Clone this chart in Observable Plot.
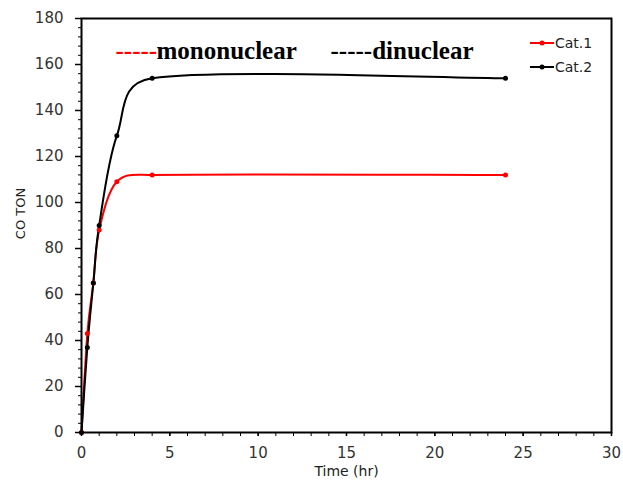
<!DOCTYPE html>
<html>
<head>
<meta charset="utf-8">
<script src="https://cdn.jsdelivr.net/npm/d3@7"></script>
<script src="https://cdn.jsdelivr.net/npm/@observablehq/plot@0.6"></script>
<style>
  html, body { margin: 0; padding: 0; background: #fff; }
  #wrap { position: relative; width: 623px; height: 481px; }
  #legend { position: absolute; left: 530px; top: 31px; font-family: "DejaVu Sans", sans-serif; font-size: 14px; color: #222; }
  #legend .row { display: flex; align-items: center; height: 24px; }
  #legend svg { margin-right: 1px; }
</style>
</head>
<body>
<div id="wrap"><div id="chart"></div><div id="legend"></div></div>
<script>
const times = [0, 0.33, 0.67, 1, 2, 4, 24];
const cat1 = [0, 43, 65, 88, 109, 112, 112];
const cat2 = [0, 37, 65, 90, 129, 154, 154];
const seriesNames = ["Cat.1", "Cat.2"];
const seriesColors = ["#ff0000", "#000000"];
const yTicks = [0, 20, 40, 60, 80, 100, 120, 140, 160, 180];
const xTicks = [0, 5, 10, 15, 20, 25, 30];

const data = [];
[cat1, cat2].forEach((vals, s) => vals.forEach((v, i) => data.push({series: seriesNames[s], t: times[i], v})));

const yMinor = d3.range(0, 181, 4);
const xMinor = d3.range(0, 31, 1);

// Spreadsheet-style smoothed line: Bezier segments, arms = 1/6 of neighbour chord, clamped to half segment
function SmoothCurve(context) { this._context = context; }
SmoothCurve.prototype = {
  areaStart() {}, areaEnd() {},
  lineStart() { this._pts = []; },
  lineEnd() {
    const p = this._pts, c = this._context, n = p.length;
    if (!n) return;
    c.moveTo(p[0][0], p[0][1]);
    if (n === 1) return;
    for (let i = 0; i < n - 1; i++) {
      const p0 = p[Math.max(i - 1, 0)], p1 = p[i], p2 = p[i + 1], p3 = p[Math.min(i + 2, n - 1)];
      const half = Math.hypot(p2[0] - p1[0], p2[1] - p1[1]) / 2;
      let ax = (p2[0] - p0[0]) / 6, ay = (p2[1] - p0[1]) / 6;
      const al = Math.hypot(ax, ay);
      if (al > half) { ax *= half / al; ay *= half / al; }
      let bx = (p3[0] - p1[0]) / 6, by = (p3[1] - p1[1]) / 6;
      const bl = Math.hypot(bx, by);
      if (bl > half) { bx *= half / bl; by *= half / bl; }
      c.bezierCurveTo(p1[0] + ax, p1[1] + ay, p2[0] - bx, p2[1] - by, p2[0], p2[1]);
    }
  },
  point(x, y) { this._pts.push([+x, +y]); }
};
const curveSmooth = (ctx) => new SmoothCurve(ctx);

const chart = Plot.plot({
  width: 623,
  height: 481,
  marginLeft: 81,
  marginRight: 12,
  marginTop: 18,
  marginBottom: 49,
  style: {fontFamily: "DejaVu Sans, sans-serif", fontSize: "15px", color: "#333", background: "#fff"},
  x: {domain: [0, 30]},
  y: {domain: [0, 180]},
  color: {domain: seriesNames, range: seriesColors},
  marks: [
    Plot.axisY({ticks: yMinor, tickSize: 3, tickFormat: () => "", stroke: "#000", strokeWidth: 1, label: null}),
    Plot.axisY({ticks: yTicks, tickSize: 6, tickPadding: 12, stroke: "#000", strokeWidth: 1.5, label: null, fontSize: 15, fill: "#333"}),
    Plot.axisX({ticks: xMinor, tickSize: 4, tickFormat: () => "", stroke: "#000", strokeWidth: 1, label: null}),
    Plot.axisX({ticks: xTicks, tickSize: 4, tickPadding: 11, stroke: "#000", strokeWidth: 1.5, label: null, fontSize: 15, fill: "#333"}),
    Plot.text(["CO TON"], {frameAnchor: "left", textAnchor: "middle", lineAnchor: "middle", rotate: -90, dx: -61, dy: -12, fontSize: 13, fill: "#222"}),
    Plot.text(["Time (hr)"], {frameAnchor: "bottom", dx: 0, dy: 43, fontSize: 14, fill: "#222"}),
    Plot.line(data, {x: "t", y: "v", stroke: "series", z: "series", curve: curveSmooth, strokeWidth: 2}),
    Plot.dot(data, {x: "t", y: "v", fill: "series", r: 2.5}),
    Plot.frame({stroke: "#000", strokeWidth: 2}),
    Plot.text(["-----"], {frameAnchor: "top-left", dx: 34, dy: 23, fill: "#ff0000", fontFamily: "Liberation Serif, serif", fontWeight: "bold", fontSize: 25, textAnchor: "start", lineAnchor: "top"}),
    Plot.text(["mononuclear"], {frameAnchor: "top-left", dx: 75, dy: 23, fill: "#000", fontFamily: "Liberation Serif, serif", fontWeight: "bold", fontSize: 25, textAnchor: "start", lineAnchor: "top"}),
    Plot.text(["-----dinuclear"], {frameAnchor: "top-left", dx: 249, dy: 23, fill: "#000", fontFamily: "Liberation Serif, serif", fontWeight: "bold", fontSize: 25, textAnchor: "start", lineAnchor: "top"})
  ]
});
document.getElementById("chart").appendChild(chart);

const legend = document.getElementById("legend");
seriesNames.forEach((name, i) => {
  const row = document.createElement("div");
  row.className = "row";
  row.innerHTML = `<svg width="24" height="10"><line x1="0" y1="5" x2="24" y2="5" stroke="${seriesColors[i]}" stroke-width="2"/><circle cx="12" cy="5" r="2.5" fill="${seriesColors[i]}"/></svg><span>${name}</span>`;
  legend.appendChild(row);
});
</script>
</body>
</html>
